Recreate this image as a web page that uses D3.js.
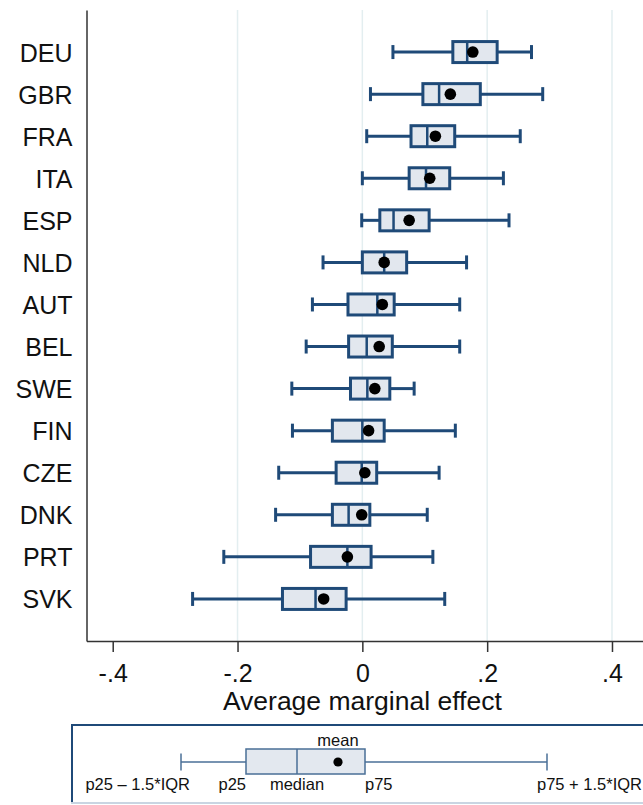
<!DOCTYPE html>
<html><head><meta charset="utf-8">
<script src="https://cdn.jsdelivr.net/npm/d3@7"></script>
<style>body{margin:0;background:#fff}svg{display:block}text{font-family:"Liberation Sans",Arial,sans-serif}</style>
</head><body><div id="chart"></div>
<script>
const countries = ["DEU","GBR","FRA","ITA","ESP","NLD","AUT","BEL","SWE","FIN","CZE","DNK","PRT","SVK"];
const whiskerLow = [0.049,0.013,0.007,0.000,-0.001,-0.063,-0.080,-0.090,-0.113,-0.112,-0.134,-0.139,-0.222,-0.272];
const p25        = [0.145,0.097,0.078,0.075,0.028,0.000,-0.023,-0.022,-0.019,-0.048,-0.042,-0.048,-0.083,-0.128];
const median     = [0.168,0.123,0.104,0.102,0.050,0.035,0.024,0.007,0.008,0.000,-0.001,-0.022,-0.024,-0.075];
const mean       = [0.177,0.141,0.117,0.108,0.075,0.035,0.032,0.027,0.020,0.010,0.004,-0.001,-0.024,-0.062];
const p75        = [0.216,0.189,0.148,0.140,0.107,0.071,0.051,0.048,0.044,0.035,0.023,0.012,0.014,-0.026];
const whiskerHigh= [0.271,0.289,0.253,0.226,0.235,0.167,0.156,0.156,0.083,0.149,0.123,0.104,0.113,0.132];
const xTicks = [-0.4,-0.2,0,0.2,0.4];
const xTickLabels = ["-.4","-.2","0",".2",".4"];
const gridTicks = [-0.2,0,0.2,0.4];
const xTitle = "Average marginal effect";

const W=643,H=805;
const m={left:86.5,top:10,right:643,bottom:641};
const dark="#1f4a78", fill="#e2e7ee";
const svg=d3.select("#chart").append("svg").attr("width",W).attr("height",H);
const x=d3.scaleLinear().domain([-0.442,0.4497]).range([m.left,m.right]);
const y=d3.scalePoint().domain(countries).range([m.top,m.bottom]).padding(1);

// gridlines
svg.append("g").selectAll("line").data(gridTicks).join("line")
  .attr("x1",d=>x(d)).attr("x2",d=>x(d)).attr("y1",m.top).attr("y2",m.bottom)
  .attr("stroke","#e3eef0").attr("stroke-width",1.5);

// x axis
const xa=svg.append("g").attr("transform",`translate(0,${m.bottom})`)
  .call(d3.axisBottom(x).tickValues(xTicks).tickSize(11).tickSizeOuter(0)
    .tickFormat((d,i)=>xTickLabels[i]));
xa.select(".domain").attr("stroke","#333").attr("stroke-width",1.5);
xa.selectAll(".tick line").attr("stroke","#333").attr("stroke-width",1.5);
xa.selectAll(".tick text").attr("font-size",25).attr("fill","#111").attr("dy",0).attr("y",41)
  .style("font-family",'"Liberation Sans",Arial,sans-serif');

// y axis
const ya=svg.append("g").attr("transform",`translate(${m.left},0)`)
  .call(d3.axisLeft(y).tickSize(0).tickSizeOuter(0).tickPadding(14));
ya.select(".domain").attr("stroke","#333").attr("stroke-width",1.5);
ya.selectAll(".tick text").attr("font-size",25).attr("fill","#111").attr("dy","0.36em")
  .style("font-family",'"Liberation Sans",Arial,sans-serif');

svg.append("text").attr("x",x(0)).attr("y",710).attr("text-anchor","middle")
  .attr("font-size",26.5).attr("fill","#111").text(xTitle);

// boxes
const rows=countries.map((c,i)=>({c,lo:whiskerLow[i],q1:p25[i],med:median[i],mean:mean[i],q3:p75[i],hi:whiskerHigh[i]}));
const g=svg.append("g").selectAll("g").data(rows).join("g").attr("transform",d=>`translate(0,${y(d.c)})`);
const bh=10.5, ch=7;
g.append("line").attr("x1",d=>x(d.lo)).attr("x2",d=>x(d.q1)).attr("stroke",dark).attr("stroke-width",3);
g.append("line").attr("x1",d=>x(d.q3)).attr("x2",d=>x(d.hi)).attr("stroke",dark).attr("stroke-width",3);
g.append("line").attr("x1",d=>x(d.lo)).attr("x2",d=>x(d.lo)).attr("y1",-ch).attr("y2",ch).attr("stroke",dark).attr("stroke-width",3);
g.append("line").attr("x1",d=>x(d.hi)).attr("x2",d=>x(d.hi)).attr("y1",-ch).attr("y2",ch).attr("stroke",dark).attr("stroke-width",3);
g.append("rect").attr("x",d=>x(d.q1)).attr("width",d=>x(d.q3)-x(d.q1)).attr("y",-bh).attr("height",2*bh)
  .attr("fill",fill).attr("stroke",dark).attr("stroke-width",3);
g.append("line").attr("x1",d=>x(d.med)).attr("x2",d=>x(d.med)).attr("y1",-bh).attr("y2",bh).attr("stroke",dark).attr("stroke-width",2.5);
g.append("circle").attr("cx",d=>x(d.mean)).attr("r",5.8).attr("fill","#000");

// legend
const L=svg.append("g");
L.append("rect").attr("x",72).attr("y",725).attr("width",600).attr("height",78)
  .attr("fill","#fff").attr("stroke",dark).attr("stroke-width",2);
L.append("line").attr("x1",71).attr("x2",643).attr("y1",803).attr("y2",803).attr("stroke","#c9d5e2").attr("stroke-width",2);
const lc="#4a6f97", ly=762;
const leg={lo:181,q1:246,med:297,mean:338,q3:365,hi:547};
L.append("line").attr("x1",leg.lo).attr("x2",leg.q1).attr("y1",ly).attr("y2",ly).attr("stroke",lc).attr("stroke-width",1.5);
L.append("line").attr("x1",leg.q3).attr("x2",leg.hi).attr("y1",ly).attr("y2",ly).attr("stroke",lc).attr("stroke-width",1.5);
L.append("line").attr("x1",leg.lo).attr("x2",leg.lo).attr("y1",ly-8.5).attr("y2",ly+8.5).attr("stroke",lc).attr("stroke-width",1.5);
L.append("line").attr("x1",leg.hi).attr("x2",leg.hi).attr("y1",ly-8.5).attr("y2",ly+8.5).attr("stroke",lc).attr("stroke-width",1.5);
L.append("rect").attr("x",leg.q1).attr("y",749).attr("width",leg.q3-leg.q1).attr("height",25)
  .attr("fill","#e3e8ef").attr("stroke",lc).attr("stroke-width",1.5);
L.append("line").attr("x1",leg.med).attr("x2",leg.med).attr("y1",749).attr("y2",774).attr("stroke",lc).attr("stroke-width",1.5);
L.append("circle").attr("cx",leg.mean).attr("cy",ly).attr("r",4.6).attr("fill","#000");
const lt=(t,xx,yy,anc)=>L.append("text").attr("x",xx).attr("y",yy).attr("text-anchor",anc).attr("font-size",16.5).attr("fill","#111").text(t);
lt("mean",leg.mean,746,"middle");
lt("p25 \u2013 1.5*IQR",190,790,"end");
lt("p25",leg.q1,790,"end");
lt("median",leg.med,790,"middle");
lt("p75",leg.q3,790,"start");
lt("p75 + 1.5*IQR",537,790,"start");
</script></body></html>
